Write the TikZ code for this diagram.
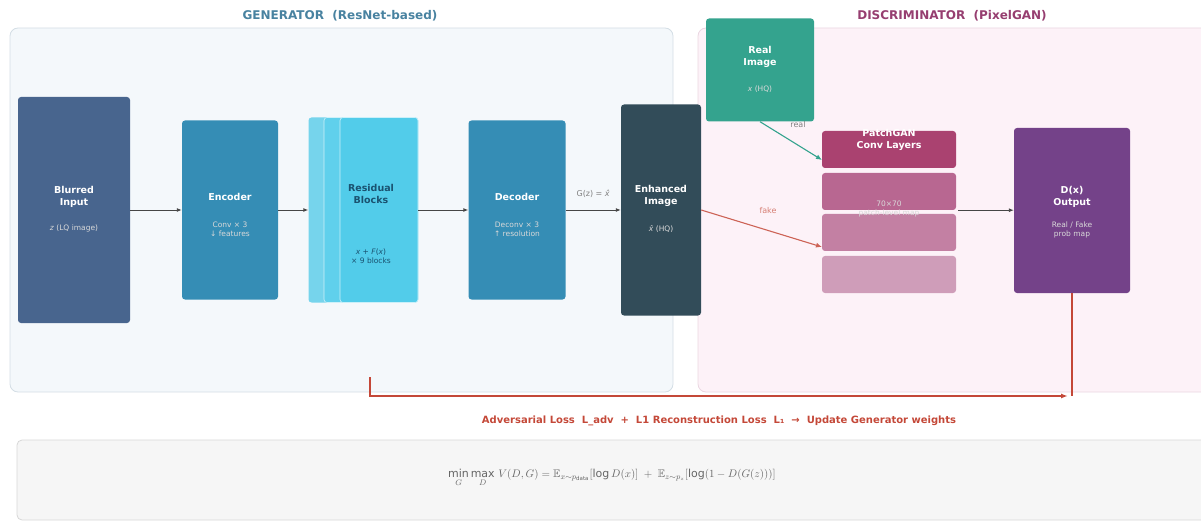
\documentclass[tikz,border=0pt]{standalone}
\usepackage{fontspec}
\usepackage{amsmath,amssymb}
\setmainfont{DejaVu Sans}
\usetikzlibrary{arrows.meta}

\definecolor{genfill}{RGB}{244,248,251}
\definecolor{genline}{RGB}{212,222,229}
\definecolor{disfill}{RGB}{253,242,248}
\definecolor{disline}{RGB}{234,214,225}
\definecolor{gentitle}{RGB}{72,130,160}
\definecolor{distitle}{RGB}{150,62,112}
\definecolor{inputc}{RGB}{72,101,142}
\definecolor{encc}{RGB}{53,141,181}
\definecolor{resa}{RGB}{118,212,236}
\definecolor{resb}{RGB}{96,208,236}
\definecolor{resc}{RGB}{82,204,234}
\definecolor{restext}{RGB}{26,82,112}
\definecolor{enhc}{RGB}{50,76,89}
\definecolor{realc}{RGB}{52,163,142}
\definecolor{patcha}{RGB}{170,66,112}
\definecolor{patchb}{RGB}{184,103,145}
\definecolor{patchc}{RGB}{195,128,163}
\definecolor{patchd}{RGB}{207,157,185}
\definecolor{outc}{RGB}{116,66,137}
\definecolor{lossc}{RGB}{196,72,56}
\definecolor{arrowc}{RGB}{70,70,70}
\definecolor{boxfill}{RGB}{246,246,246}
\definecolor{boxline}{RGB}{215,215,215}

\begin{document}
\begin{tikzpicture}[x=1pt,y=-1pt,
  panel/.style={draw, line width=0.8pt, rounded corners=8pt},
  blk/.style={rounded corners=3pt, inner sep=0pt, text=white, align=center, font=\bfseries\fontsize{9.5}{11.5}\selectfont},
  sub/.style={text=white!85!black, align=center, font=\fontsize{7.5}{9}\selectfont},
  flow/.style={-{Latex[length=5pt,width=4pt]}, draw=arrowc, line width=0.9pt},
  note/.style={font=\fontsize{8}{9}\selectfont},
  fb/.style={draw=lossc, line width=1.6pt}]
\useasboundingbox (0,0) rectangle (1201,521);

% panels
\draw[panel, draw=genline, fill=genfill] (10,28) rectangle (673,392);
\draw[panel, draw=disline, fill=disfill] (698,28) rectangle (1220,392);
\node[text=gentitle, font=\bfseries\fontsize{12}{14}\selectfont] (gentitle) at (340,16) {GENERATOR \ (ResNet-based)};
\node[text=distitle, font=\bfseries\fontsize{12}{14}\selectfont] (distitle) at (952,16) {DISCRIMINATOR \ (PixelGAN)};

% generator
\node[blk, fill=inputc, minimum width=112, minimum height=226] (input) at (74,210) {};
\node[blk] (inputt) at (74,197) {Blurred\\Input};
\node[sub] (inputs) at (74,228) {\textit{z} (LQ image)};

\node[blk, fill=encc, minimum width=96, minimum height=179] (enc) at (230,210) {};
\node[blk] (enct) at (230,197) {Encoder};
\node[sub] (encs) at (230,229) {Conv × 3\\↓ features};

\node[blk, fill=resa, minimum width=109, minimum height=185] (resback) at (363,210) {};
\node[blk, fill=resb, minimum width=94, minimum height=185, draw=white!70!resb, line width=0.6pt] (resmid) at (371,210) {};
\node[blk, fill=resc, minimum width=78, minimum height=185, draw=white!70!resc, line width=0.6pt] (res) at (379,210) {};
\node[blk, text=restext] (rest) at (371,194) {Residual\\Blocks};
\node[sub, text=restext] (ress) at (371,256) {\textit{x} + \textit{F}(\textit{x})\\× 9 blocks};

\node[blk, fill=encc, minimum width=97, minimum height=179] (dec) at (517,210) {};
\node[blk] (dect) at (517,197) {Decoder};
\node[sub] (decs) at (517,229) {Deconv × 3\\↑ resolution};

\node[blk, fill=enhc, minimum width=80, minimum height=211] (enh) at (661,210) {};
\node[blk] (enht) at (661,196) {Enhanced\\Image};
\node[sub] (enhs) at (661,229) {\textit{x̂} (HQ)};

% discriminator
\node[blk, fill=realc, minimum width=108, minimum height=103] (real) at (760,70) {};
\node[blk] (realt) at (760,57) {Real\\Image};
\node[sub] (reals) at (760,89) {\textit{x} (HQ)};

\node[blk, fill=patcha, minimum width=134, minimum height=37] (bar1) at (889,149.5) {};
\node[blk, fill=patchb, minimum width=134, minimum height=37] (bar2) at (889,191.5) {};
\node[blk, fill=patchc, minimum width=134, minimum height=37] (bar3) at (889,232.5) {};
\node[blk, fill=patchd, minimum width=134, minimum height=37] (bar4) at (889,274.5) {};
\node[blk] (patcht) at (889,140) {PatchGAN\\Conv Layers};
\node[sub] (patchs) at (889,209) {70×70\\patch-level map};

\node[blk, fill=outc, minimum width=116, minimum height=165] (dout) at (1072,210.5) {};
\node[blk] (doutt) at (1072,197) {D(x)\\Output};
\node[sub] (douts) at (1072,230) {Real / Fake\\prob map};

% connectors
\draw[flow] (input) -- (enc);
\draw[flow] (enc) -- (resback);
\draw[flow] (res) -- (dec);
\draw[flow] (dec) -- node[above=9pt, note, text=gray] (gzlab) {G(z) = \textit{x̂}} (enh);
\draw[flow] (bar2.south east) ++(2,0) coordinate (patchout) -- (dout.west |- patchout);

\coordinate (fakein) at (822,247);
\coordinate (realin) at (822,160);
\draw[-{Latex[length=6pt,width=5pt]}, draw=lossc!85, line width=1.1pt] (enh.east) -- (fakein);
\node[note, text=lossc!70] (fakelab) at (768,211) {fake};
\draw[-{Latex[length=6pt,width=5pt]}, draw=realc, line width=1.1pt] (real.south) -- (realin);
\node[note, text=gray] (reallab) at (798,125) {real};

% feedback to the generator
\coordinate (fbstart) at (370,377);
\coordinate (fbend) at (1068,396);
\draw[fb, -{Latex[length=7pt,width=5pt]}] (fbstart) |- (fbend);
\draw[fb] (dout.south) -- (dout.south |- fbend);
\node[text=lossc, font=\bfseries\fontsize{10}{12}\selectfont] (losslab) at (719,421)
  {Adversarial Loss \ L\_adv \ + \ L1 Reconstruction Loss \ L₁ \ → \ Update Generator weights};

% objective
\draw[draw=boxline, fill=boxfill, rounded corners=5pt, line width=0.8pt] (17,440) rectangle (1220,520);
\node[text=black!60, font=\fontsize{11}{13}\selectfont] (objective) at (612,478)
  {$\min\limits_{G}\max\limits_{D}\, V(D,G) = \mathbb{E}_{x\sim p_{\mathrm{data}}}[\log D(x)] \;+\; \mathbb{E}_{z\sim p_{z}}[\log(1-D(G(z)))]$};
\end{tikzpicture}
\end{document}
